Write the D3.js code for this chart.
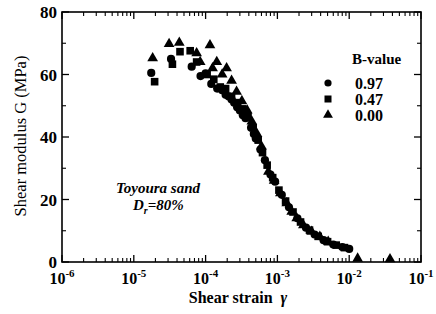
<!DOCTYPE html>
<html>
<head>
<meta charset="utf-8">
<script src="https://cdn.jsdelivr.net/npm/d3@7"></script>
<style>
  body { margin: 0; background: #fff; }
  svg { display: block; font-family: "Liberation Serif", "DejaVu Serif", serif; }
</style>
</head>
<body>
<svg width="436" height="314"></svg>
<script>
// data: [shear strain, G (MPa)]
var bvalues = ['0.97', '0.47', '0.00'];

var circles = [[1.75e-5,60.5],[3.3e-5,65],[6.4e-5,62.5],[8.5e-5,59.5],[1.0e-4,60.4],[1.2e-4,57],
  [1.45e-4,55.5],[1.7e-4,55],[1.9e-4,53.5],[2.1e-4,53],[2.3e-4,52],[2.5e-4,51],[2.75e-4,49.5],
  [3.0e-4,48.5],[3.3e-4,47],[3.6e-4,46],[4.3e-4,43],[4.7e-4,41],[5.0e-4,39.5],[5.8e-4,36],
  [6.7e-4,32.6],[8.0e-4,28],[9.3e-4,25.7],[1.15e-3,21.5],[1.45e-3,17.5],[1.9e-3,14],[2.5e-3,11],
  [3.3e-3,8.8],[4.4e-3,7],[6.0e-3,5.6],[8.0e-3,4.8],[1.0e-2,4.2]];

var squares = [[1.95e-5,57.7],[3.45e-5,63.3],[4.4e-5,67.3],[6.1e-5,67.6],[7.5e-5,64],[1.05e-4,60],
  [1.3e-4,58.5],[1.6e-4,56],[1.9e-4,55.5],[2.3e-4,53],[2.8e-4,51],[3.3e-4,49],[3.9e-4,46.5],
  [4.6e-4,43],[5.4e-4,39],[6.2e-4,35],[7.2e-4,31],[8.6e-4,27],[1.05e-3,23],[1.3e-3,19.5],
  [1.65e-3,16],[2.1e-3,12.8],[2.8e-3,10.2],[3.7e-3,8.2],[5.0e-3,6.5],[6.6e-3,5.4],[8.6e-3,4.6]];

var triangles = [[1.83e-5,65.2],[3.1e-5,69.8],[4.3e-5,70.2],[7.5e-5,66.8],[8.4e-5,64],[1.15e-4,69.4],
  [1.25e-4,62],[1.43e-4,64],[1.7e-4,60],[1.96e-4,62],[2.3e-4,58],[2.7e-4,54.5],[3.2e-4,51.5],
  [3.8e-4,48.5],[4.4e-4,45],[5.2e-4,41],[6.0e-4,37],[7.5e-4,28.9],[9.0e-4,26],[1.1e-3,22],
  [1.35e-3,18.8],[1.58e-3,16.1],[1.86e-3,14],[2.3e-3,11.8],[3.0e-3,9.7],[3.9e-3,8.1],[5.1e-3,6.5],
  [1.31e-2,1.1],[3.7e-2,0.9]];

var xDecades = [-6, -5, -4, -3, -2, -1];
var yTicks = [0, 20, 40, 60, 80];
var yMinor = [10, 30, 50, 70];

(function() {
  var svg = d3.select('svg');
  var pl = 62, pr = 421, pt = 12, pb = 262;

  var x = d3.scaleLog().domain([1e-6, 1e-1]).range([pl, pr]);
  var y = d3.scaleLinear().domain([0, 80]).range([pb, pt]);

  // minor ticks for log axis
  var xMinor = [];
  xDecades.slice(0, -1).forEach(function(e) {
    for (var k = 2; k <= 9; k++) xMinor.push(k * Math.pow(10, e));
  });
  var xMajor = xDecades.map(function(e) { return Math.pow(10, e); });

  var g = svg.append('g');

  // frame
  g.append('rect').attr('x', pl).attr('y', pt)
    .attr('width', pr - pl).attr('height', pb - pt)
    .attr('fill', 'none').attr('stroke', '#000').attr('stroke-width', 1.6);

  // bottom / top ticks, pointing inward
  [[pb, -1], [pt, 1]].forEach(function(s) {
    g.selectAll(null).data(xMajor).enter().append('line')
      .attr('x1', function(d) { return x(d); }).attr('x2', function(d) { return x(d); })
      .attr('y1', s[0]).attr('y2', s[0] + s[1] * 7)
      .attr('stroke', '#000').attr('stroke-width', 1.3);
    g.selectAll(null).data(xMinor).enter().append('line')
      .attr('x1', function(d) { return x(d); }).attr('x2', function(d) { return x(d); })
      .attr('y1', s[0]).attr('y2', s[0] + s[1] * 4)
      .attr('stroke', '#000').attr('stroke-width', 1.1);
  });

  // left / right ticks
  [[pl, 1], [pr, -1]].forEach(function(s) {
    g.selectAll(null).data(yTicks).enter().append('line')
      .attr('x1', s[0]).attr('x2', s[0] + s[1] * 7)
      .attr('y1', function(d) { return y(d); }).attr('y2', function(d) { return y(d); })
      .attr('stroke', '#000').attr('stroke-width', 1.3);
    g.selectAll(null).data(yMinor).enter().append('line')
      .attr('x1', s[0]).attr('x2', s[0] + s[1] * 4)
      .attr('y1', function(d) { return y(d); }).attr('y2', function(d) { return y(d); })
      .attr('stroke', '#000').attr('stroke-width', 1.1);
  });

  // y tick labels
  g.selectAll(null).data(yTicks).enter().append('text')
    .attr('x', pl - 5).attr('y', function(d) { return y(d) + 6; })
    .attr('text-anchor', 'end').attr('font-size', 17).attr('font-weight', 'bold')
    .text(function(d) { return d; });

  // x tick labels 10^n
  var xl = g.selectAll(null).data(xDecades).enter().append('text')
    .attr('x', function(d) { return x(Math.pow(10, d)); }).attr('y', 284)
    .attr('text-anchor', 'middle').attr('font-size', 16).attr('font-weight', 'bold');
  xl.append('tspan').text('10');
  xl.append('tspan').attr('dy', -7).attr('font-size', 11).text(function(d) { return d; });

  // axis titles
  svg.append('text').attr('x', 238).attr('y', 303).attr('text-anchor', 'middle')
    .attr('font-size', 16).attr('font-weight', 'bold')
    .html('Shear strain &#160;<tspan font-style="italic">\u03b3</tspan>');
  svg.append('text').attr('transform', 'translate(26,136) rotate(-90)')
    .attr('text-anchor', 'middle').attr('font-size', 16.5)
    .text('Shear modulus G (MPa)');

  // markers
  var plot = svg.append('g');
  plot.selectAll('circle.c').data(circles).enter().append('circle')
    .attr('cx', function(d) { return x(d[0]); }).attr('cy', function(d) { return y(d[1]); })
    .attr('r', 4.1).attr('fill', '#000');
  plot.selectAll('rect.s').data(squares).enter().append('rect')
    .attr('x', function(d) { return x(d[0]) - 3.8; }).attr('y', function(d) { return y(d[1]) - 3.8; })
    .attr('width', 7.6).attr('height', 7.6).attr('fill', '#000');
  var tri = d3.symbol().type(d3.symbolTriangle).size(50);
  plot.selectAll('path.t').data(triangles).enter().append('path')
    .attr('d', tri)
    .attr('transform', function(d) { return 'translate(' + x(d[0]) + ',' + y(d[1]) + ')'; })
    .attr('fill', '#000');

  // legend
  var leg = svg.append('g');
  leg.append('text').attr('x', 352).attr('y', 64).attr('font-size', 15).attr('font-weight', 'bold')
    .text('B-value');
  var legY = [83, 99, 115];
  var triL = d3.symbol().type(d3.symbolTriangle).size(42);
  leg.append('circle').attr('cx', 328).attr('cy', legY[0]).attr('r', 3.6).attr('fill', '#000');
  leg.append('rect').attr('x', 324.5).attr('y', legY[1] - 3.5).attr('width', 7).attr('height', 7).attr('fill', '#000');
  leg.append('path').attr('d', triL).attr('transform', 'translate(328,' + legY[2] + ')').attr('fill', '#000');
  leg.selectAll(null).data(bvalues).enter().append('text')
    .attr('x', 355).attr('y', function(d, i) { return legY[i] + 6; })
    .attr('font-size', 16).attr('font-weight', 'bold')
    .text(function(d) { return d; });

  // annotation
  svg.append('text').attr('x', 158).attr('y', 193).attr('text-anchor', 'middle')
    .attr('font-size', 15).attr('font-style', 'italic').attr('font-weight', 'bold')
    .text('Toyoura sand');
  var dr = svg.append('text').attr('x', 133).attr('y', 210)
    .attr('font-size', 15).attr('font-style', 'italic').attr('font-weight', 'bold');
  dr.append('tspan').text('D');
  dr.append('tspan').attr('dy', 4).attr('font-size', 10).text('r');
  dr.append('tspan').attr('dy', -4).text('=80%');
})();
</script>
</body>
</html>
